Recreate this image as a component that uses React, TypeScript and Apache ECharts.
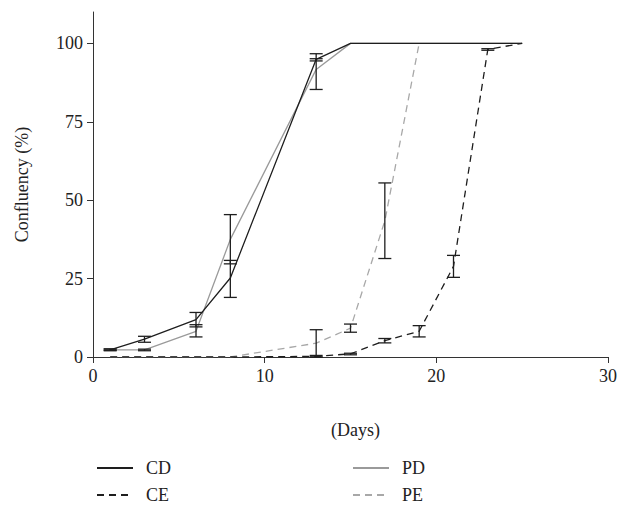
import React, { useEffect, useRef } from "react";
import * as echarts from "echarts";

const days = [1, 3, 6, 8, 13, 15, 17, 19, 21, 23, 25];
const cdValues = [2.3, 5.7, 11.9, 25.2, 94.9, 100, 100, 100, 100, 100, 100];
const pdValues = [2.3, 2.3, 8.2, 37.5, 91.7, 100, 100, 100, 100, 100, 100];
const ceValues = [0, 0, 0, 0, 0.2, 1.0, 5.2, 8.2, 28.9, 98.1, 100];
const peDays = [1, 3, 6, 8, 13, 15, 17, 19];
const peValues = [0, 0, 0, 0, 4.4, 9.2, 43.4, 100];

// error bars: [day, low, high]
const cdErrors = [[1, 2.0, 2.6], [3, 4.7, 6.6], [6, 9.6, 14.2], [8, 19.0, 30.8], [13, 94.4, 96.7]];
const pdErrors = [[1, 2.1, 2.5], [3, 2.0, 2.5], [6, 6.4, 10.3], [8, 29.7, 45.4], [13, 85.3, 95.1]];
const ceErrors = [[13, 0, 0.5], [15, 0.7, 1.2], [17, 4.5, 5.9], [19, 6.4, 10.0], [21, 25.4, 32.4], [23, 97.8, 98.3]];
const peErrors = [[13, 0, 8.7], [15, 7.9, 10.5], [17, 31.4, 55.5]];

const yTicks = [0, 25, 50, 75, 100];
const xTicks = [0, 10, 20, 30];

const FONT = "Liberation Serif";
const DARK = "#1e1e1e";
const GRAY = "#9a9a9a";
const LGRAY = "#a8a8a8";

function errorSeries(name: string, data: number[][]) {
  return {
    type: "custom",
    name: name + "-err",
    data,
    encode: { x: 0, y: [1, 2] },
    silent: true,
    z: 5,
    renderItem: (params: any, api: any) => {
      const x = api.value(0);
      const lo = api.coord([x, api.value(1)]);
      const hi = api.coord([x, api.value(2)]);
      const hw = 6.5;
      const style = { stroke: DARK, lineWidth: 1.3, fill: "none" };
      return {
        type: "group",
        children: [
          { type: "line", shape: { x1: lo[0], y1: lo[1], x2: hi[0], y2: hi[1] }, style },
          { type: "line", shape: { x1: lo[0] - hw, y1: lo[1], x2: lo[0] + hw, y2: lo[1] }, style },
          { type: "line", shape: { x1: hi[0] - hw, y1: hi[1], x2: hi[0] + hw, y2: hi[1] }, style },
        ],
      };
    },
  };
}

function lineSeries(name: string, xs: number[], ys: number[], color: string, dashed: boolean, z: number) {
  return {
    type: "line",
    name,
    data: xs.map((d, i) => [d, ys[i]]),
    symbol: "none",
    z,
    lineStyle: { color, width: 1.3, type: dashed ? [7, 5] : "solid" },
    itemStyle: { color },
  };
}

export default function App() {
  const ref = useRef<HTMLDivElement>(null);
  useEffect(() => {
    document.body.style.margin = "0";
    if (!ref.current) return;
    const chart = echarts.init(ref.current, null, { renderer: "svg" });
    const textStyle = { fontFamily: FONT, fontSize: 18, color: "#222" };
    const legendBase = {
      orient: "vertical",
      top: 459,
      padding: 0,
      itemWidth: 36,
      itemHeight: 18,
      itemGap: 9,
      itemStyle: { opacity: 0 },
      textStyle: { ...textStyle, padding: [0, 0, 0, 8] },
    };
    chart.setOption({
      animation: false,
      backgroundColor: "#fff",
      textStyle: { fontFamily: FONT },
      grid: { left: 93, right: 9, top: 12, bottom: 151, containLabel: false },
      xAxis: {
        type: "value",
        min: 0,
        max: 30,
        interval: 10,
        name: "(Days)",
        nameLocation: "middle",
        nameGap: 64,
        nameTextStyle: { ...textStyle, padding: [0, 0, 0, 10] },
        splitLine: { show: false },
        axisLine: { lineStyle: { color: "#333", width: 1 } },
        axisTick: { inside: false, length: 6, lineStyle: { color: "#333" }, customValues: xTicks },
        axisLabel: { ...textStyle, margin: 10, customValues: xTicks },
      },
      yAxis: {
        type: "value",
        min: 0,
        max: 110,
        interval: 25,
        name: "Confluency (%)",
        nameLocation: "middle",
        nameGap: 62,
        nameTextStyle: textStyle,
        splitLine: { show: false },
        axisLine: { show: true, lineStyle: { color: "#333", width: 1 } },
        axisTick: { show: true, inside: false, length: 6, lineStyle: { color: "#333" }, customValues: yTicks },
        axisLabel: { ...textStyle, margin: 10, customValues: yTicks },
      },
      legend: [
        { ...legendBase, left: 96, data: ["CD", "CE"] },
        { ...legendBase, left: 352, data: ["PD", "PE"] },
      ],
      series: [
        lineSeries("PE", peDays, peValues, LGRAY, true, 2),
        lineSeries("PD", days, pdValues, GRAY, false, 2),
        lineSeries("CE", days, ceValues, DARK, true, 3),
        lineSeries("CD", days, cdValues, DARK, false, 4),
        errorSeries("CD", cdErrors),
        errorSeries("PD", pdErrors),
        errorSeries("CE", ceErrors),
        errorSeries("PE", peErrors),
      ],
    });
    return () => chart.dispose();
  }, []);
  return <div ref={ref} style={{ width: 620, height: 508 }} />;
}
